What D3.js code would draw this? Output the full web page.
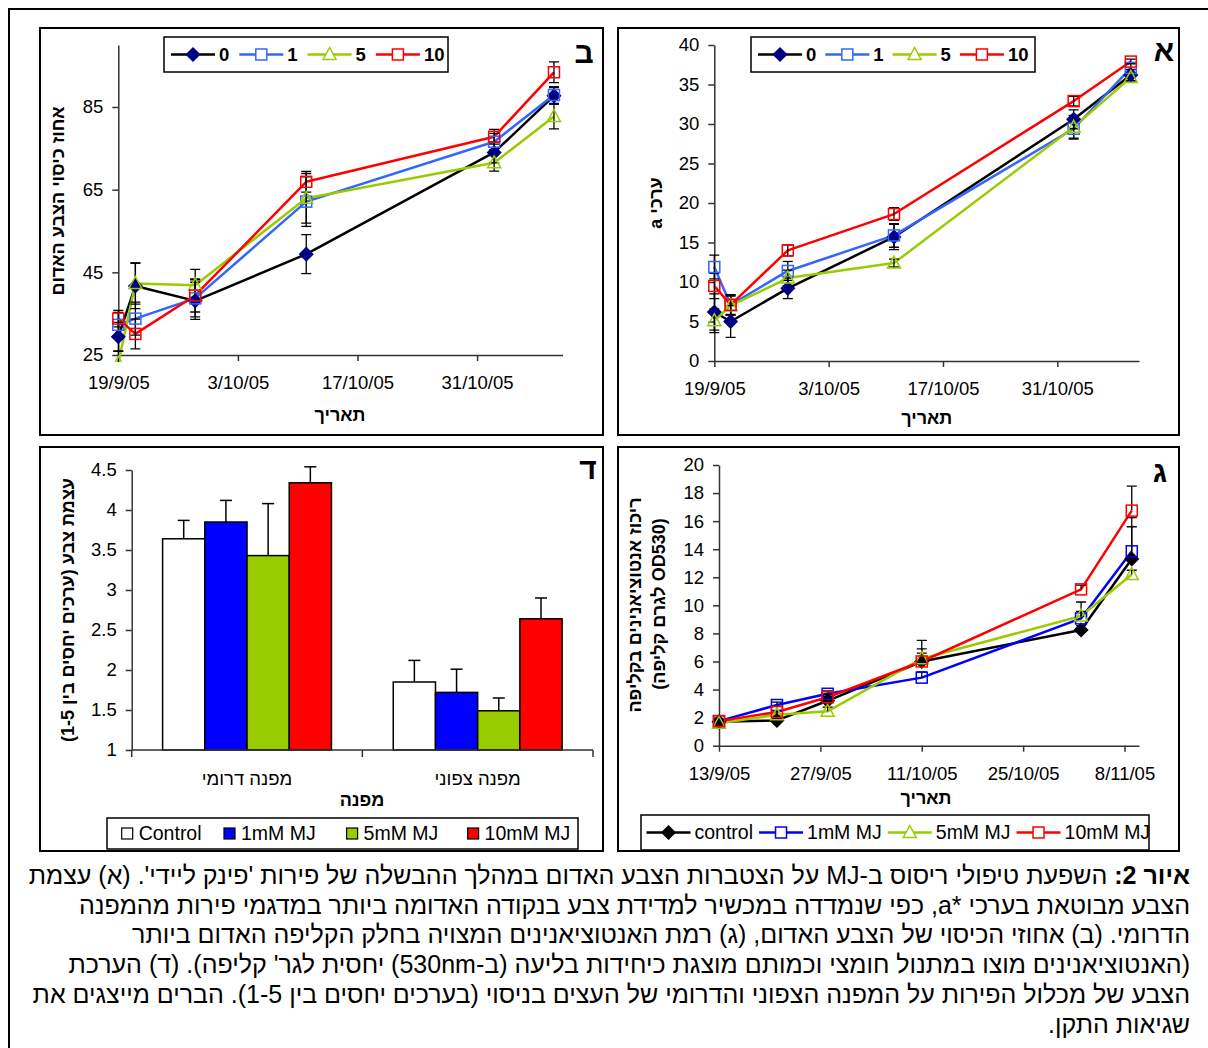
<!DOCTYPE html>
<meta charset="utf-8">
<style>
  body { margin: 0; background: #fff; }
  #fig { position: absolute; left: 0; top: 0; }
  #caption { position: absolute; top: 861px; left: 10px; width: 1180px;
             direction: rtl; text-align: right;
             font-family: "Liberation Sans", Arial, sans-serif; font-size: 25px; line-height: 29.7px; }
  #caption div { white-space: nowrap; }
</style>
<svg id="fig" width="1208" height="1048"></svg>
<div id="caption"></div>

<script src="https://cdn.jsdelivr.net/npm/d3@7"></script>
<script>

// ---------- data ----------
var datesAB = ["19/9/2005", "21/9/2005", "28/9/2005", "11/10/2005", "2/11/2005", "9/11/2005"];
var datesC  = ["13/9/2005", "21/9/2005", "28/9/2005", "11/10/2005", "2/11/2005", "9/11/2005"];
var doseNames = ["0", "1", "5", "10"];
var mjNames   = ["control", "1mM MJ", "5mM MJ", "10mM MJ"];
var barNames  = ["Control", "1mM MJ", "5mM MJ", "10mM MJ"];
var slopes    = ["מפנה דרומי", "מפנה צפוני"];

// (א) a* values
var aStar0  = [6.2, 5.0, 9.2, 15.7, 30.6, 36.2];
var aStar1  = [11.9, 7.1, 11.4, 15.9, 29.4, 37.1];
var aStar5  = [5.1, 7.0, 10.5, 12.4, 29.6, 35.9];
var aStar10 = [9.5, 7.1, 14.0, 18.6, 32.9, 37.9];
var aStarErr0  = [2.3, 2.0, 1.3, 1.6, 1.2, 0.7];
var aStarErr1  = [1.5, 1.2, 1.2, 1.5, 1.2, 0.6];
var aStarErr5  = [1.5, 1.2, 1.0, 0.5, 1.5, 0.6];
var aStarErr10 = [1.6, 1.3, 0.7, 0.8, 0.6, 0.3];

// (ב) red colour cover, %
var cover0  = [29.4, 41.7, 38.1, 49.4, 74.0, 87.7];
var cover1  = [32.3, 33.8, 38.7, 62.1, 76.6, 87.9];
var cover5  = [23.0, 42.3, 41.9, 62.9, 71.5, 82.7];
var cover10 = [33.8, 30.1, 39.4, 66.9, 77.8, 93.4];
var coverErr0  = [3.5, 5.5, 4.5, 4.7, 2.5, 2.0];
var coverErr1  = [3.0, 4.0, 4.5, 6.0, 2.0, 2.0];
var coverErr5  = [3.0, 5.0, 3.8, 6.0, 2.0, 3.0];
var coverErr10 = [2.0, 3.6, 4.0, 2.5, 1.8, 2.5];

// (ג) anthocyanins, OD530 per g peel (plus error only)
var antho0  = [1.7, 1.8, 3.2, 6.0, 8.25, 13.3];
var antho1  = [1.75, 2.9, 3.7, 4.85, 9.07, 13.85];
var antho5  = [1.6, 2.2, 2.45, 6.2, 9.24, 12.2];
var antho10 = [1.75, 2.4, 3.45, 6.0, 11.14, 16.75];
var anthoErr0  = [0.1, 0.3, 0.3, 1.5, 0.3, 2.3];
var anthoErr1  = [0.1, 0.2, 0.2, 0.4, 0.5, 2.4];
var anthoErr5  = [0.1, 0.3, 0.3, 0.7, 1.0, 0.3];
var anthoErr10 = [0.1, 0.4, 0.2, 0.6, 0.3, 1.75];

// (ד) colour intensity 1-5
var southScore = [3.64, 3.85, 3.43, 4.34];
var southErr   = [0.23, 0.27, 0.65, 0.20];
var northScore = [1.85, 1.72, 1.49, 2.64];
var northErr   = [0.27, 0.29, 0.16, 0.26];

// ---------- setup ----------
var font = "'Liberation Sans', Arial, sans-serif";
var svg = d3.select("#fig").attr("font-family", font);
var parseDate = d3.utcParse("%d/%m/%Y");
var fmtDate = d3.utcFormat("%-d/%-m/%y");

// outer frame (runs off the right and bottom)
svg.append("rect").attr("x", 9).attr("y", 9).attr("width", 1240).attr("height", 1080)
  .attr("fill", "none").attr("stroke", "#000").attr("stroke-width", 2);

var styleAB = [
  {line: "#000000", mark: "diamond", stroke: "#000080", fill: "#000080"},
  {line: "#3366FF", mark: "square", stroke: "#3366FF", fill: "none"},
  {line: "#99CC00", mark: "triangle", stroke: "#99CC00", fill: "none"},
  {line: "#FF0000", mark: "square", stroke: "#FF0000", fill: "none"}
];
var styleC = [
  {line: "#000000", mark: "diamond", stroke: "#000000", fill: "#000000"},
  {line: "#0000FF", mark: "square", stroke: "#0000FF", fill: "none"},
  {line: "#99CC00", mark: "triangle", stroke: "#99CC00", fill: "none"},
  {line: "#FF0000", mark: "square", stroke: "#FF0000", fill: "none"}
];
var barColors = ["#FFFFFF", "#0000FF", "#99CC00", "#FF0000"];

function box(x0, y0, x1, y1) {
  svg.append("rect").attr("x", x0).attr("y", y0).attr("width", x1 - x0).attr("height", y1 - y0)
    .attr("fill", "none").attr("stroke", "#000").attr("stroke-width", 2);
}

function styleAxis(a) {
  a.attr("font-family", font).attr("font-size", 18.5);
  a.select(".domain").attr("stroke", "#333").attr("stroke-width", 1.5);
  a.selectAll(".tick line").attr("stroke", "#333").attr("stroke-width", 1.5);
  a.selectAll(".tick text").attr("fill", "#000");
}

function drawMarker(g, kind, cx, cy, stroke, fill) {
  var m;
  if (kind === "diamond") m = g.append("path").attr("d", "M0,-6.5L6.5,0L0,6.5L-6.5,0Z");
  else if (kind === "square") m = g.append("rect").attr("x", -5.5).attr("y", -5.5).attr("width", 11).attr("height", 11);
  else m = g.append("path").attr("d", "M0,-7L6.5,5L-6.5,5Z");
  m.attr("transform", "translate(" + cx + "," + cy + ")")
    .attr("stroke", stroke).attr("fill", fill).attr("stroke-width", 1.5);
}

function label(x, y, txt, size, bold, rotate) {
  var t = svg.append("text")
    .attr("transform", "translate(" + x + "," + y + ")" + (rotate ? " rotate(-90)" : ""))
    .attr("text-anchor", "middle").attr("dy", "0.35em")
    .attr("direction", "rtl")
    .attr("font-size", size).attr("font-weight", bold ? "bold" : "normal")
    .text(txt);
  return t;
}

// line legend: entries laid out one after the other
function lineLegend(bx, by, bw, bh, names, styles, bold, lineStart, gap, size) {
  svg.append("rect").attr("x", bx).attr("y", by).attr("width", bw).attr("height", bh)
    .attr("fill", "#fff").attr("stroke", "#000").attr("stroke-width", 1.5);
  var cy = by + bh / 2, x = lineStart;
  var g = svg.append("g");
  names.forEach(function(n, i) {
    var st = styles[i];
    g.append("line").attr("x1", x).attr("x2", x + 44).attr("y1", cy).attr("y2", cy)
      .attr("stroke", st.line).attr("stroke-width", 2.5);
    drawMarker(g, st.mark, x + 22, cy, st.stroke, st.fill === "none" ? "#fff" : st.fill);
    var t = g.append("text").attr("x", x + 48).attr("y", cy).attr("dy", "0.35em")
      .attr("font-size", size).attr("font-weight", bold ? "bold" : "normal").text(n);
    x = x + 48 + t.node().getComputedTextLength() + gap;
  });
}

var clipId = 0;
function linePanel(cfg) {
  var dates = cfg.dates.map(parseDate);
  var x = d3.scaleUtc().domain(cfg.xDomain.map(parseDate)).range([cfg.x0, cfg.x1]);
  var y = d3.scaleLinear().domain(cfg.yDomain).range([cfg.y0, cfg.y1]);

  var ya = svg.append("g").attr("transform", "translate(" + cfg.x0 + ",0)")
    .call(d3.axisLeft(y).tickValues(cfg.yTicks).tickSize(6).tickSizeOuter(0).tickPadding(9));
  styleAxis(ya);
  var xa = svg.append("g").attr("transform", "translate(0," + cfg.y0 + ")")
    .call(d3.axisBottom(x).tickValues(cfg.xTicks.map(parseDate)).tickFormat(fmtDate)
      .tickSize(6).tickSizeOuter(0).tickPadding(15));
  styleAxis(xa);

  clipId++;
  svg.append("clipPath").attr("id", "clip" + clipId).append("rect")
    .attr("x", cfg.x0 - 10).attr("y", cfg.y1 - 10)
    .attr("width", cfg.x1 - cfg.x0 + 20).attr("height", cfg.y0 - cfg.y1 + 17);
  var plot = svg.append("g").attr("clip-path", "url(#clip" + clipId + ")");

  var series = cfg.series.map(function(s) {
    return s.v.map(function(v, j) { return {d: dates[j], v: v, e: s.e[j]}; });
  });
  var line = d3.line().x(function(p) { return x(p.d); }).y(function(p) { return y(p.v); });

  series.forEach(function(pts, i) {
    plot.append("path").datum(pts).attr("d", line).attr("fill", "none")
      .attr("stroke", cfg.styles[i].line).attr("stroke-width", 2.5).attr("stroke-linejoin", "round");
  });
  series.forEach(function(pts) {
    pts.forEach(function(p) {
      var px = x(p.d), top = y(p.v + p.e), bot = cfg.plusOnly ? y(p.v) : y(p.v - p.e);
      plot.append("line").attr("x1", px).attr("x2", px).attr("y1", top).attr("y2", bot)
        .attr("stroke", "#000").attr("stroke-width", 1.3);
      plot.append("line").attr("x1", px - 5).attr("x2", px + 5).attr("y1", top).attr("y2", top)
        .attr("stroke", "#000").attr("stroke-width", 1.3);
      if (!cfg.plusOnly)
        plot.append("line").attr("x1", px - 5).attr("x2", px + 5).attr("y1", bot).attr("y2", bot)
          .attr("stroke", "#000").attr("stroke-width", 1.3);
    });
  });
  series.forEach(function(pts, i) {
    var st = cfg.styles[i];
    pts.forEach(function(p) { drawMarker(plot, st.mark, x(p.d), y(p.v), st.stroke, st.fill); });
  });
}

// ---------- panel ב ----------
box(40, 28, 603, 435);
linePanel({
  dates: datesAB, xDomain: ["19/9/2005", "10/11/2005"], xTicks: ["19/9/2005", "3/10/2005", "17/10/2005", "31/10/2005"],
  yDomain: [25, 100], yTicks: [25, 45, 65, 85],
  x0: 118.3, x1: 562.5, y0: 355, y1: 45,
  series: [{v: cover0, e: coverErr0}, {v: cover1, e: coverErr1}, {v: cover5, e: coverErr5}, {v: cover10, e: coverErr10}],
  styles: styleAB
});
lineLegend(164, 37, 284, 35, doseNames, styleAB, true, 171, 10, 18.5);
label(584, 52, "ב", 30, true);
label(58, 201, "אחוז כיסוי הצבע האדום", 18, true, true);
label(340, 415, "תאריך", 18, true);

// ---------- panel א ----------
box(618, 28, 1179, 435);
linePanel({
  dates: datesAB, xDomain: ["19/9/2005", "10/11/2005"], xTicks: ["19/9/2005", "3/10/2005", "17/10/2005", "31/10/2005"],
  yDomain: [0, 40], yTicks: d3.range(0, 41, 5),
  x0: 714.3, x1: 1139, y0: 361, y1: 45,
  series: [{v: aStar0, e: aStarErr0}, {v: aStar1, e: aStarErr1}, {v: aStar5, e: aStarErr5}, {v: aStar10, e: aStarErr10}],
  styles: styleAB
});
lineLegend(751, 37, 284, 35, doseNames, styleAB, true, 758, 9, 18.5);
label(1164, 50, "א", 30, true);
label(656, 203, "ערכי a", 18, true, true);
label(926.7, 418, "תאריך", 18, true);

// ---------- panel ג ----------
box(618, 447, 1179, 851);
linePanel({
  dates: datesC, xDomain: ["13/9/2005", "10/11/2005"],
  xTicks: ["13/9/2005", "27/9/2005", "11/10/2005", "25/10/2005", "8/11/2005"],
  yDomain: [0, 20], yTicks: d3.range(0, 21, 2),
  x0: 719, x1: 1139, y0: 745.7, y1: 465, plusOnly: true,
  series: [{v: antho0, e: anthoErr0}, {v: antho1, e: anthoErr1}, {v: antho5, e: anthoErr5}, {v: antho10, e: anthoErr10}],
  styles: styleC
});
lineLegend(641, 815, 508, 35, mjNames, styleC, false, 646.5, 6, 19.5);
label(1160, 471, "ג", 30, true);
label(635, 605, "ריכוז אנטוציאנינים בקליפה", 18, true, true);
label(659, 604, "(OD530 לגרם קליפה)", 18, true, true);
label(926, 798, "תאריך", 18, true);

// ---------- panel ד ----------
box(40, 447, 603, 851);
(function() {
  var x0 = 131.7, x1 = 593, y0 = 750, y1 = 470;
  var xc = d3.scaleBand().domain(slopes).range([x0, x1]).paddingInner(0.268).paddingOuter(0.134);
  var xs = d3.scaleBand().domain(barNames).range([0, xc.bandwidth()]);
  var y = d3.scaleLinear().domain([1, 4.5]).range([y0, y1]);

  var ya = svg.append("g").attr("transform", "translate(" + x0 + ",0)")
    .call(d3.axisLeft(y).tickValues(d3.range(1, 4.51, 0.5)).tickFormat(d3.format("~g"))
      .tickSize(6).tickSizeOuter(0).tickPadding(9));
  styleAxis(ya);

  var groups = [
    {cat: slopes[0], v: southScore, e: southErr},
    {cat: slopes[1], v: northScore, e: northErr}
  ];
  var g = svg.append("g");
  groups.forEach(function(gr) {
    gr.v.forEach(function(v, i) {
      var bx = xc(gr.cat) + xs(barNames[i]);
      var cx = bx + xs.bandwidth() / 2;
      g.append("line").attr("x1", cx).attr("x2", cx).attr("y1", y(v)).attr("y2", y(v + gr.e[i]))
        .attr("stroke", "#000").attr("stroke-width", 1.5);
      g.append("line").attr("x1", cx - 6).attr("x2", cx + 6).attr("y1", y(v + gr.e[i])).attr("y2", y(v + gr.e[i]))
        .attr("stroke", "#000").attr("stroke-width", 1.5);
      g.append("rect").attr("x", bx).attr("y", y(v)).attr("width", xs.bandwidth()).attr("height", y0 - y(v))
        .attr("fill", barColors[i]).attr("stroke", "#000").attr("stroke-width", 1.5);
    });
  });

  var xa = svg.append("g").attr("transform", "translate(0," + y0 + ")")
    .call(d3.axisBottom(xc).tickSize(0).tickPadding(22));
  styleAxis(xa);
  xa.selectAll(".tick text").attr("direction", "rtl");
  xa.select(".domain").attr("d", "M" + x0 + ",0H" + x1);
  var bounds = [x0, x0 + xc.step(), x1];
  xa.selectAll(".bound").data(bounds).enter().append("line")
    .attr("x1", function(d) { return d; }).attr("x2", function(d) { return d; })
    .attr("y1", 0).attr("y2", 7).attr("stroke", "#333").attr("stroke-width", 1.5);

  // legend, entries spaced like the original's slots
  svg.append("rect").attr("x", 107).attr("y", 818).attr("width", 471).attr("height", 31)
    .attr("fill", "#fff").attr("stroke", "#000").attr("stroke-width", 1.5);
  var slotX = [121.7, 224, 346.6, 467.6], cy = 833.5;
  barNames.forEach(function(n, i) {
    svg.append("rect").attr("x", slotX[i]).attr("y", cy - 5.5).attr("width", 11).attr("height", 11)
      .attr("fill", barColors[i]).attr("stroke", "#000").attr("stroke-width", 1.2);
    svg.append("text").attr("x", slotX[i] + 17).attr("y", cy).attr("dy", "0.35em")
      .attr("font-size", 19.5).text(n);
  });
})();
label(588, 468, "ד", 30, true);
label(68, 610, "עצמת צבע (ערכים יחסים בין 1-5)", 18, true, true);
label(362, 800, "מפנה", 18, true);

// ---------- caption ----------
var captionLines = [
  "השפעת טיפולי ריסוס ב-MJ על הצטברות הצבע האדום במהלך ההבשלה של פירות 'פינק ליידי'. (א) עצמת",
  "הצבע מבוטאת בערכי *a, כפי שנמדדה במכשיר למדידת צבע בנקודה האדומה ביותר במדגמי פירות מהמפנה",
  "הדרומי. (ב) אחוזי הכיסוי של הצבע האדום, (ג) רמת האנטוציאנינים המצויה בחלק הקליפה האדום ביותר",
  "(האנטוציאנינים מוצו במתנול חומצי וכמותם מוצגת כיחידות בליעה (ב-530nm) יחסית לגר' קליפה). (ד) הערכת",
  "הצבע של מכלול הפירות על המפנה הצפוני והדרומי של העצים בניסוי (בערכים יחסים בין 1-5). הברים מייצגים את",
  "שגיאות התקן."
];
var cap = d3.select("#caption");
cap.selectAll("div").data(captionLines).enter().append("div")
  .each(function(d, i) {
    var row = d3.select(this);
    if (i === 0) row.append("b").text("איור 2: ");
    row.append("span").text(d);
  });

</script>
